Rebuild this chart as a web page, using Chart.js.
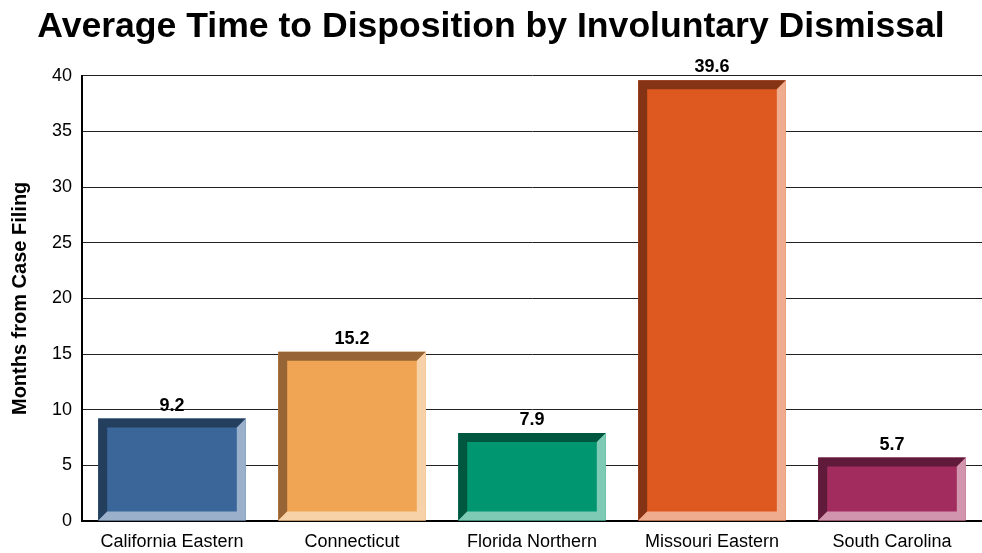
<!DOCTYPE html>
<html>
<head>
<meta charset="utf-8">
<script src="https://cdn.jsdelivr.net/npm/chart.js@4"></script>
<style>
  body{margin:0;background:#fff}
  #wrap{width:982px;height:553px}
</style>
</head>
<body>
<div id="wrap"><canvas id="chart"></canvas></div>
<script>
var districts=["California Eastern","Connecticut","Florida Northern","Missouri Eastern","South Carolina"]
var months=[9.2,15.2,7.9,39.6,5.7]
var faceColors=["#3A6699","#F0A555","#009670","#DE5920","#A32C5E"]
var darkColors=["#243F5E","#976535","#00573F","#853315","#611B3A"]
var lightColors=["#9AB0CB","#F7D1A8","#7FCAB4","#F0AC8F","#D195AE"]
var yTicks=[0,5,10,15,20,25,30,35,40]

// bevel edges + value labels drawn over each bar
var bevel={
    id:'bevel',
    afterDatasetsDraw:function(chart){
        var ctx=chart.ctx
        var meta=chart.getDatasetMeta(0)
        var b=9
        meta.data.forEach(function(bar,i){
            var l=bar.x-bar.width/2, r=bar.x+bar.width/2
            var t=bar.y, bt=bar.base
            ctx.save()
            ctx.fillStyle=darkColors[i]
            ctx.beginPath()
            ctx.moveTo(l,bt);ctx.lineTo(l,t);ctx.lineTo(r,t);ctx.lineTo(r-b,t+b);ctx.lineTo(l+b,t+b);ctx.lineTo(l+b,bt-b);ctx.closePath()
            ctx.fill()
            ctx.fillStyle=lightColors[i]
            ctx.beginPath()
            ctx.moveTo(r,t);ctx.lineTo(r,bt);ctx.lineTo(l,bt);ctx.lineTo(l+b,bt-b);ctx.lineTo(r-b,bt-b);ctx.lineTo(r-b,t+b);ctx.closePath()
            ctx.fill()
            ctx.fillStyle="#000"
            ctx.font="bold 18px 'Liberation Sans', Arial"
            ctx.textAlign="center"
            ctx.textBaseline="bottom"
            ctx.fillText(months[i].toFixed(1),bar.x,t-4)
            ctx.restore()
        })
    }
}

var mychart=document.getElementById("chart").getContext('2d')
var chart=new Chart(mychart,{
    type:'bar',
    data:{
        labels:districts,
        datasets:[{
            data:months,
            backgroundColor:faceColors,
            borderWidth:0,
            barPercentage:0.82,
            categoryPercentage:1
        }]
    },
    options:{
        responsive:true,
        maintainAspectRatio:false,
        animation:false,
        layout:{padding:{left:0,right:0,top:0,bottom:0}},
        plugins:{
            legend:{display:false},
            tooltip:{enabled:false},
            title:{
                display:true,
                text:"Average Time to Disposition by Involuntary Dismissal",
                color:"#000",
                font:{family:"'Liberation Sans', Arial",size:35.6,weight:'bold'},
                padding:{top:6,bottom:27}
            }
        },
        scales:{
            x:{
                grid:{display:false,drawTicks:false},
                border:{color:"#000",width:2},
                afterFit:function(axis){axis.height=32},
                ticks:{color:"#000",font:{family:"'Liberation Sans', Arial",size:18},padding:10,maxRotation:0}
            },
            y:{
                min:0,max:40,
                afterBuildTicks:function(axis){axis.ticks=yTicks.map(function(v){return {value:v}})},
                afterFit:function(axis){axis.width=82},
                grid:{color:"#222",lineWidth:1,drawTicks:false},
                border:{color:"#000",width:2},
                ticks:{color:"#000",font:{family:"'Liberation Sans', Arial",size:18},padding:10},
                title:{display:true,text:"Months from Case Filing",color:"#000",font:{family:"'Liberation Sans', Arial",size:20,weight:'bold'},padding:{top:8,bottom:8}}
            }
        }
    },
    plugins:[bevel]
})
</script>
</body>
</html>
